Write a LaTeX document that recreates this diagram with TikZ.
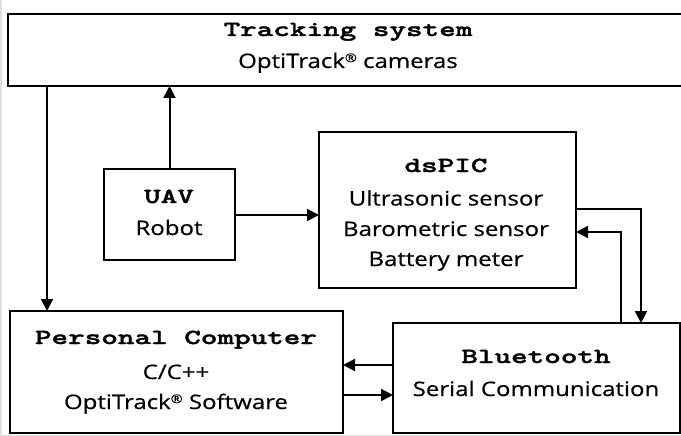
\documentclass[tikz,border=0pt]{standalone}
\usepackage{fontspec}
\setmainfont[FakeStretch=1.2, FakeBold=0.5]{Open Sans}
\newfontfamily\monof[FakeStretch=1.47, BoldFeatures={FakeBold=1.6}]{Latin Modern Mono Light}
\usetikzlibrary{arrows.meta}
\newcommand{\regmark}{\raisebox{0.55ex}{\fontsize{12}{12}\selectfont ®}}
\tikzset{
  box/.style={draw, line width=2.5pt, inner sep=0pt, outer sep=0pt},
  ttl/.style={font=\monof\bfseries\fontsize{21.5}{21.5}\selectfont, anchor=base, inner sep=0pt},
  txt/.style={font=\fontsize{20}{20}\selectfont, anchor=base, inner sep=0pt},
  arr/.style={line width=2pt, -{Triangle[length=12pt,width=12pt]}}
}
\begin{document}
\begin{tikzpicture}[x=1pt,y=-1pt]
\useasboundingbox (0,0) rectangle (681,436);
\fill[white] (0,0) rectangle (681,436);
\draw[black!12, line width=2pt] (1,0) -- (1,436);
\draw[black!12, line width=1.5pt] (0,435.5) -- (681,435.5);
% boxes
\node[box, minimum width=682pt, minimum height=72pt] (trk) at (349,50) {};
\node[box, minimum width=131pt, minimum height=91pt] (uav) at (169.5,214.5) {};
\node[box, minimum width=257pt, minimum height=156pt] (ds) at (447.5,210) {};
\node[box, minimum width=333pt, minimum height=122pt] (pc) at (176.5,372) {};
\node[box, minimum width=287pt, minimum height=110pt] (bt) at (536.5,378) {};
% texts
\node[ttl] (t1) at (348,36) {Tracking system};
\node[txt] (t2) at (348,68) {OptiTrack\regmark{} cameras};
\node[ttl] (u1) at (169,203) {UAV};
\node[txt] (u2) at (169,235) {Robot};
\node[ttl] (d1) at (446,172) {dsPIC};
\node[txt] (d2) at (446,205.5) {Ultrasonic sensor};
\node[txt] (d3) at (446,236) {Barometric sensor};
\node[txt] (d4) at (446,266) {Battery meter};
\node[ttl] (p1) at (176,344) {Personal Computer};
\node[txt] (p2) at (176,379) {C/C++};
\node[txt] (p3) at (176,409) {OptiTrack\regmark{} Software};
\node[ttl] (b1) at (536,363) {Bluetooth};
\node[txt] (b2) at (536,396) {Serial Communication};
% helper coordinates
\coordinate (xL) at (47,0);
\coordinate (xR) at (641,0);
\coordinate (xQ) at (621,0);
\coordinate (yA) at (0,215);
\coordinate (yB) at (0,209);
\coordinate (yC) at (0,232);
\coordinate (yD) at (0,365);
\coordinate (yE) at (0,395);
% connectors
\draw[arr] (trk.south -| xL) -- (pc.north -| xL);
\draw[arr] (uav.north) -- (trk.south -| uav.north);
\draw[arr] (uav.east |- yA) -- (ds.west |- yA);
\draw[arr] (ds.east |- yB) -| (bt.north -| xR);
\draw[arr] (bt.north -| xQ) |- (ds.east |- yC);
\draw[arr] (bt.west |- yD) -- (pc.east |- yD);
\draw[arr] (pc.east |- yE) -- (bt.west |- yE);
\end{tikzpicture}
\end{document}
